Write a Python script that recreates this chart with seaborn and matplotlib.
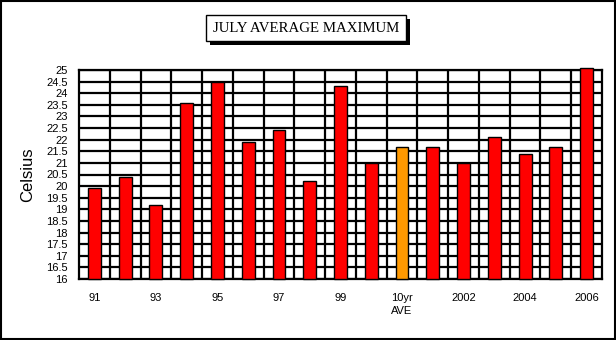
import matplotlib
matplotlib.use("Agg")
import matplotlib.pyplot as plt
from matplotlib.patches import Rectangle
import seaborn as sns
import pandas as pd
import numpy as np

categories = ["91", "92", "93", "94", "95", "96", "97", "98", "99", "2000",
              "10yr AVE", "2001", "2002", "2003", "2004", "2005", "2006"]
values = [19.9, 20.4, 19.2, 23.6, 24.5, 21.9, 22.4, 20.2, 24.3, 21.0,
          21.7, 21.7, 21.0, 22.1, 21.4, 21.7, 25.1]
groups = ["year"] * 10 + ["ave"] + ["year"] * 6
tick_labels = ["91", "", "93", "", "95", "", "97", "", "99", "",
               "10yr\nAVE", "", "2002", "", "2004", "", "2006"]
y_ticks = [16, 16.5, 17, 17.5, 18, 18.5, 19, 19.5, 20, 20.5, 21, 21.5,
           22, 22.5, 23, 23.5, 24, 24.5, 25]
title = "JULY AVERAGE MAXIMUM"
y_label = "Celsius"

df = pd.DataFrame({"cat": categories, "val": values, "grp": groups})

sns.set_theme(style="white")
plt.rcParams["font.family"] = ["Liberation Sans", "DejaVu Sans"]

fig = plt.figure(figsize=(6.16, 3.4), dpi=100)
ax = fig.add_axes([79 / 616, 61 / 340, 523 / 616, 209 / 340])

sns.barplot(data=df, x="cat", y="val", hue="grp",
            palette={"year": "#FF0000", "ave": "#FF9900"}, saturation=1,
            dodge=False, width=0.42, edgecolor="black", linewidth=1,
            legend=False, ax=ax, zorder=3, order=categories)

ymin = y_ticks[0]
for p in ax.patches:
    h = p.get_height()
    p.set_y(ymin)
    p.set_height(h - ymin)
    p.set_clip_on(False)

ax.set_ylim(ymin, y_ticks[-1])
ax.set_xlim(-0.5, len(categories) - 0.5)
ax.set_yticks(y_ticks)
ax.set_yticklabels([f"{t:g}" for t in y_ticks], fontsize=8)
ax.set_xticks(range(len(categories)))
ax.set_xticklabels(tick_labels, fontsize=8, linespacing=1.45)
ax.set_xticks(np.arange(len(categories) - 1) + 0.5, minor=True)

ax.grid(False)
ax.yaxis.grid(True, which="major", color="black", linewidth=1.6, zorder=1)
ax.xaxis.grid(True, which="minor", color="black", linewidth=1.6, zorder=1)
ax.set_axisbelow(True)

ax.tick_params(axis="y", which="both", length=0, pad=8, colors="black")
ax.tick_params(axis="x", which="major", direction="in", length=3, width=1,
               pad=10, colors="black", bottom=True)
ax.tick_params(axis="x", which="minor", length=0)

for s in ax.spines.values():
    s.set_color("black")
    s.set_linewidth(1.6)
    s.set_visible(True)

ax.set_xlabel("")
ax.set_ylabel(y_label, fontsize=12, color="black")
ax.yaxis.set_label_coords((35 - 79) / 523, 0.5)

# Title box with shadow
tx, ty = 306 / 616, 312 / 340
t = fig.text(tx, ty, title, ha="center", va="center", zorder=5,
             fontsize=10.7, family="Liberation Serif", color="black",
             bbox=dict(boxstyle="square,pad=0.45", fc="white", ec="black", lw=1))
fig.canvas.draw()
bb = t.get_bbox_patch().get_window_extent(fig.canvas.get_renderer())
W, H = fig.bbox.width, fig.bbox.height
fig.patches.append(Rectangle(((bb.x0 + 4) / W, (bb.y0 - 4) / H),
                             bb.width / W, bb.height / H,
                             transform=fig.transFigure, fc="black", ec="black",
                             lw=0, zorder=1))

# outer border
fig.patches.append(Rectangle((0.0015, 0.003), 0.997, 0.994, transform=fig.transFigure,
                             fill=False, ec="black", lw=1.5))

fig.savefig("out.png", dpi=100)
